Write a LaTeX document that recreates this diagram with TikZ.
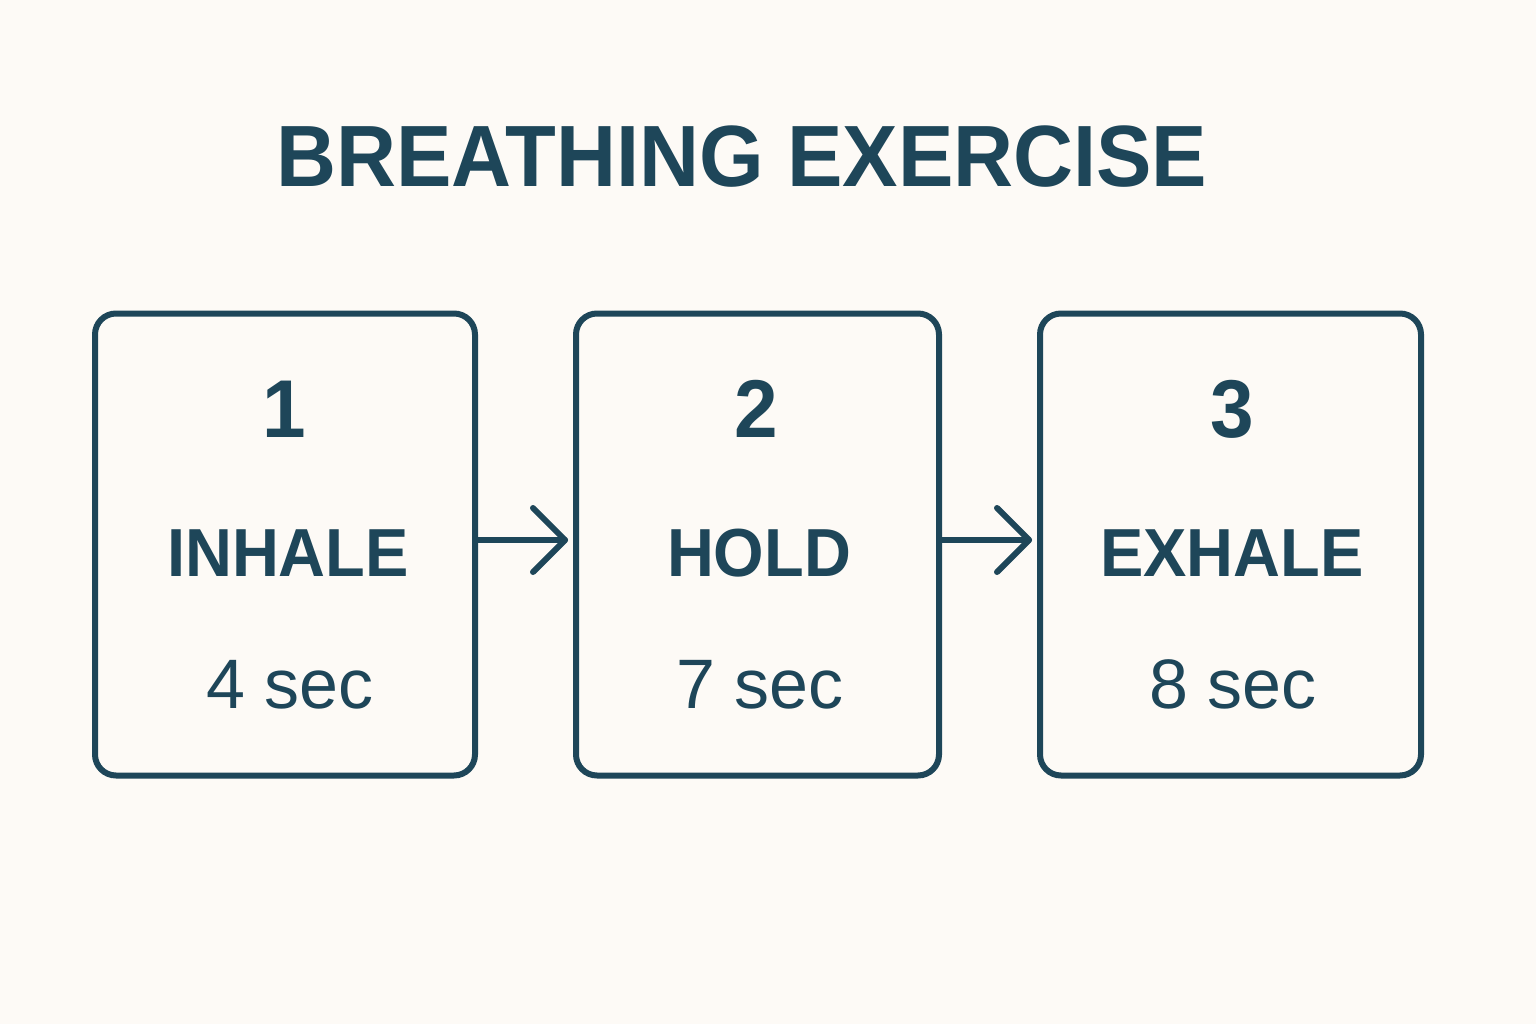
\documentclass[tikz,border=0pt]{standalone}
\usepackage{fontspec}
\setmainfont{Liberation Sans}[BoldFeatures={FakeStretch=0.955}]
\usetikzlibrary{positioning}
\definecolor{ink}{HTML}{1E4659}
\definecolor{paper}{HTML}{FDFAF6}
\tikzset{
  stagebox/.style={draw=ink, line width=6pt, rounded corners=21pt, minimum height=462pt, inner sep=0pt},
  titletext/.style={text=ink, font=\bfseries\fontsize{87}{90}\selectfont, anchor=base, inner sep=0pt},
  numtext/.style={text=ink, font=\bfseries\fontsize{82}{86}\selectfont, anchor=base, inner sep=0pt},
  labeltext/.style={text=ink, font=\bfseries\fontsize{68}{72}\selectfont, anchor=base, inner sep=0pt},
  sectext/.style={text=ink, font=\fontsize{70}{74}\selectfont, anchor=base, inner sep=0pt},
  flow/.style={draw=ink, line width=6pt, line cap=round, line join=round},
}
\begin{document}
\begin{tikzpicture}[x=1pt,y=-1pt]
\fill[paper] (0,0) rectangle (1536,1024);
\useasboundingbox (0,0) rectangle (1536,1024);

\node[titletext] (title) at (742,187) {BREATHING EXERCISE};

\node[stagebox, minimum width=380pt] (b1) at (285,544.5) {};
\node[stagebox, minimum width=363pt] (b2) at (757.5,544.5) {};
\node[stagebox, minimum width=381pt] (b3) at (1230.5,544.5) {};

\node[numtext] (n1) at (284,437) {1};
\node[numtext] (n2) at (756,437) {2};
\node[numtext] (n3) at (1232,437) {3};

\node[labeltext] (l1) at (288,576) {INHALE};
\node[labeltext] (l2) at (759,576) {HOLD};
\node[labeltext] (l3) at (1232,576) {EXHALE};

\node[sectext] (s1) at (290,708) {4 sec};
\node[sectext] (s2) at (760,708) {7 sec};
\node[sectext] (s3) at (1233,708) {8 sec};

\coordinate (t1) at (565,540);
\coordinate (t2) at (1029,540);
\draw[flow] (b1.east |- t1) -- (t1);
\draw[flow] ([shift={(-32,-32)}]t1) -- (t1) -- ([shift={(-32,32)}]t1);
\draw[flow] (b2.east |- t2) -- (t2);
\draw[flow] ([shift={(-32,-32)}]t2) -- (t2) -- ([shift={(-32,32)}]t2);
\end{tikzpicture}
\end{document}
